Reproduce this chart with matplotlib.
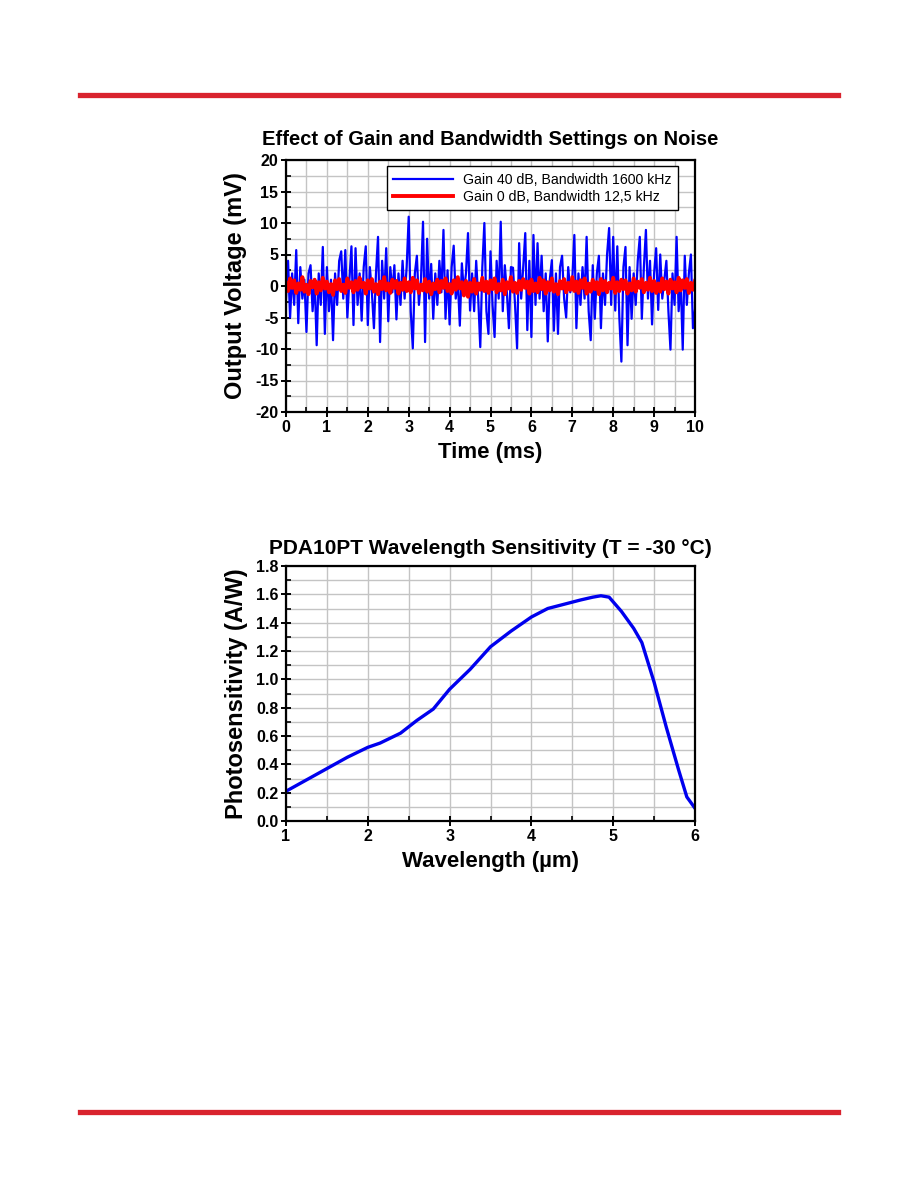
import numpy as np
import matplotlib
matplotlib.use("Agg")
import matplotlib.pyplot as plt
from matplotlib.ticker import MultipleLocator

plt.rcParams['font.family'] = ['Liberation Sans', 'DejaVu Sans']
plt.rcParams['axes.unicode_minus'] = False

# noise trace, every 0.05 ms
noise_t_step = 0.05
gain40_mv = [
    -2, 4, -5, 2, -3, 5.7, -5.9, 3, -2, 1, -7.3, 2, 3.3, -4, 1, -9.4, 2, -3, 6.2, -7.6,
    3, -4, 1, -8.6, 2, -3, 4, 5.5, -2, 5.7, -5, 1, 6.3, -6.2, 6.0, -3, 2, -5.5, 3, 6.3,
    -6.2, 3, -1, -6.7, 2, 7.8, -8.9, 4, -2, 6.0, -5.6, 3, -1, 3.3, -5.3, 2, -3, 4, -2, 3,
    11, -4, -9.9, 2, 4.8, -3, 1, 10.2, -8.9, 7.5, -2, 3.5, -5.2, 2, -3, 4, -1, 8.9, -5.2, 2.5,
    -6.1, 3, 6.4, -2, 1, -6.3, 3.6, -1, 2, 8.4, -3.9, 2, -4, 4, -2, -9.7, 3, 10, -4, -7.6,
    5.5, -3, -8.1, 4, -2, 10.2, -4, 3.3, -1, -6.7, 3, 2.9, -3, -9.9, 6.8, -2, 3, 8.4, -7, 4,
    -8.1, 8.1, -3, 6.8, -2, 4.8, -4, 2, -8.8, 1, 4.1, -7.1, 2, -7.6, 3, 4.8, -2, -5, 3, -1,
    1, 8.1, -6.7, 2, -3, 3, -2, 7.8, -4, -8.6, 3.3, -5.2, 2, 4.8, -6.7, 2, -3, 5, 9.2, -3,
    7.8, -3.9, 6.3, -5, -12, 3, 6.2, -9.4, 3, -5.2, 2, -3, 4, 7.8, -5.2, 3, 8.9, -2, 4, -6.1,
    2, 6, -3.8, 5, -2, 1, 4, -4, -10.1, 2, -3, 7.8, -4, 1, -10.1, 4.8, -3, 2, 5, -6.7, -3.8,
]
gain0_mv = [
    0.5, -0.8, 1.2, -0.3, 0.9, -1.1, 0.4, -0.6, 1.4, -0.9, 0.2, -1.3, 0.8, -0.2, 1.0, -1.2, 0.6, -0.7, 1.3, -0.4,
    0.7, -1.0, 0.3, -1.4, 0.9, -0.5, 1.1, -0.8, 0.2, -1.1, 1.2, -0.3, 0.6, -1.0, 0.8, -0.6, 1.3, -0.2, 0.5, -1.2,
    0.9, -0.4, 1.1, -0.9, 0.3, -1.3, 0.7, -0.5, 1.4, -0.7, 0.4, -1.1, 1.0, -0.3, 0.8, -1.2, 0.5, -0.6, 1.2, -0.8,
    0.6, -1.0, 1.3, -0.4, 0.9, -1.1, 0.2, -0.7, 1.1, -0.9, 0.7, -1.3, 0.4, -0.5, 1.0, -1.0, 0.8, -0.3, 1.2, -0.8,
    0.3, -1.2, 0.9, -0.6, 1.4, -0.4, 0.6, -1.5, 0.8, -1.7, 0.5, -0.9, 1.1, -1.2, 0.4, -0.6, 1.3, -0.8, 0.7, -1.1,
    0.9, -0.5, 1.2, -1.0, 0.3, -0.7, 1.0, -1.3, 0.6, -0.4, 1.4, -0.9, 0.5, -1.1, 0.8, -0.6, 1.1, -0.3, 0.7, -1.2,
    1.0, -0.8, 0.4, -1.0, 1.3, -0.5, 0.9, -1.2, 0.6, -0.7, 1.2, -0.9, 0.3, -1.3, 0.8, -0.4, 1.1, -1.0, 0.5, -0.6,
    1.4, -0.8, 0.7, -1.1, 0.9, -0.3, 1.2, -1.2, 0.4, -0.9, 1.0, -0.5, 0.6, -1.3, 1.1, -0.7, 0.8, -1.0, 0.5, -0.4,
    1.3, -1.1, 0.6, -0.8, 1.0, -0.5, 0.9, -1.2, 0.4, -0.7, 1.2, -0.9, 0.7, -0.3, 1.1, -1.0, 0.5, -0.6, 1.3, -0.8,
    0.8, -1.1, 0.4, -0.9, 1.2, -0.5, 0.7, -1.2, 1.0, -0.4, 0.6, -1.0, 1.3, -0.7, 0.9, -0.3, 1.1, -1.1, 0.5, -0.6, 0.8,
]

# PDA10PT responsivity curve
wavelength_um = [1.0, 1.25, 1.5, 1.75, 2.0, 2.15, 2.4, 2.6, 2.8, 3.0, 3.25, 3.5, 3.75, 4.0, 4.2,
                 4.4, 4.6, 4.75, 4.85, 4.95, 5.1, 5.25, 5.35, 5.5, 5.65, 5.8, 5.9, 6.0]
photosens_aw = [0.21, 0.29, 0.37, 0.45, 0.52, 0.55, 0.62, 0.71, 0.79, 0.93, 1.07, 1.23, 1.34, 1.44, 1.50,
                1.53, 1.56, 1.58, 1.59, 1.58, 1.48, 1.36, 1.26, 0.98, 0.66, 0.36, 0.17, 0.09]

bar_red = '#d9232e'
grid_col = '#c4c4c4'


def style_axes(ax):
    ax.grid(True, which='both', color=grid_col, lw=1.0)
    ax.set_axisbelow(True)
    for s in ax.spines.values():
        s.set_linewidth(1.6)
    ax.tick_params(which='major', direction='inout', length=7, width=1.4, labelsize=11.5, pad=2)
    ax.tick_params(which='minor', direction='in', length=3.5, width=1.2)
    for lab in ax.get_xticklabels() + ax.get_yticklabels():
        lab.set_fontweight('bold')


fig = plt.figure(figsize=(9.18, 11.88), dpi=100)

# red page bars
fig.add_artist(plt.Line2D([80 / 918, 838 / 918], [1 - 95 / 1188] * 2, color=bar_red, lw=3.8))
fig.add_artist(plt.Line2D([80 / 918, 838 / 918], [1 - 1112 / 1188] * 2, color=bar_red, lw=3.8))

# top chart
ax1 = fig.add_axes([286 / 918, 1 - 412 / 1188, 409 / 918, 252 / 1188])
t = np.arange(len(gain40_mv)) * noise_t_step
t_red = np.arange(len(gain0_mv)) * noise_t_step
ax1.plot(t, gain40_mv, color='#0000ff', lw=1.6, label='Gain 40 dB, Bandwidth 1600 kHz')
ax1.plot(t_red, gain0_mv, color='#ff0000', lw=2.8, label='Gain 0 dB, Bandwidth 12,5 kHz')
ax1.set_xlim(0, 10)
ax1.set_ylim(-20, 20)
ax1.xaxis.set_major_locator(MultipleLocator(1))
ax1.xaxis.set_minor_locator(MultipleLocator(0.5))
ax1.yaxis.set_major_locator(MultipleLocator(5))
ax1.yaxis.set_minor_locator(MultipleLocator(2.5))
style_axes(ax1)
ax1.set_title('Effect of Gain and Bandwidth Settings on Noise', fontsize=14.5, fontweight='bold', pad=11)
ax1.set_xlabel('Time (ms)', fontsize=16, fontweight='bold', labelpad=5)
ax1.set_ylabel('Output Voltage (mV)', fontsize=17, fontweight='bold', labelpad=6)
leg = ax1.legend(loc='upper left', bbox_to_anchor=(0.247, 0.975), fontsize=10.2, frameon=True,
                 fancybox=False, framealpha=1, edgecolor='black', handlelength=4.2,
                 borderpad=0.45, labelspacing=0.2, handletextpad=0.7, borderaxespad=0)
leg.get_frame().set_linewidth(1.0)

# bottom chart
ax2 = fig.add_axes([286 / 918, 1 - 821 / 1188, 409 / 918, 255 / 1188])
ax2.plot(wavelength_um, photosens_aw, color='#0000ee', lw=2.4)
ax2.set_xlim(1, 6)
ax2.set_ylim(0, 1.8)
ax2.xaxis.set_major_locator(MultipleLocator(1))
ax2.xaxis.set_minor_locator(MultipleLocator(0.5))
ax2.yaxis.set_major_locator(MultipleLocator(0.2))
ax2.yaxis.set_minor_locator(MultipleLocator(0.1))
ax2.yaxis.set_major_formatter(matplotlib.ticker.FormatStrFormatter('%.1f'))
style_axes(ax2)
ax2.set_title('PDA10PT Wavelength Sensitivity (T = -30 °C)', fontsize=15, fontweight='bold', pad=9)
ax2.set_xlabel('Wavelength (µm)', fontsize=16, fontweight='bold', labelpad=5)
ax2.set_ylabel('Photosensitivity (A/W)', fontsize=17, fontweight='bold', labelpad=6)

fig.savefig('out.png', dpi=100)
